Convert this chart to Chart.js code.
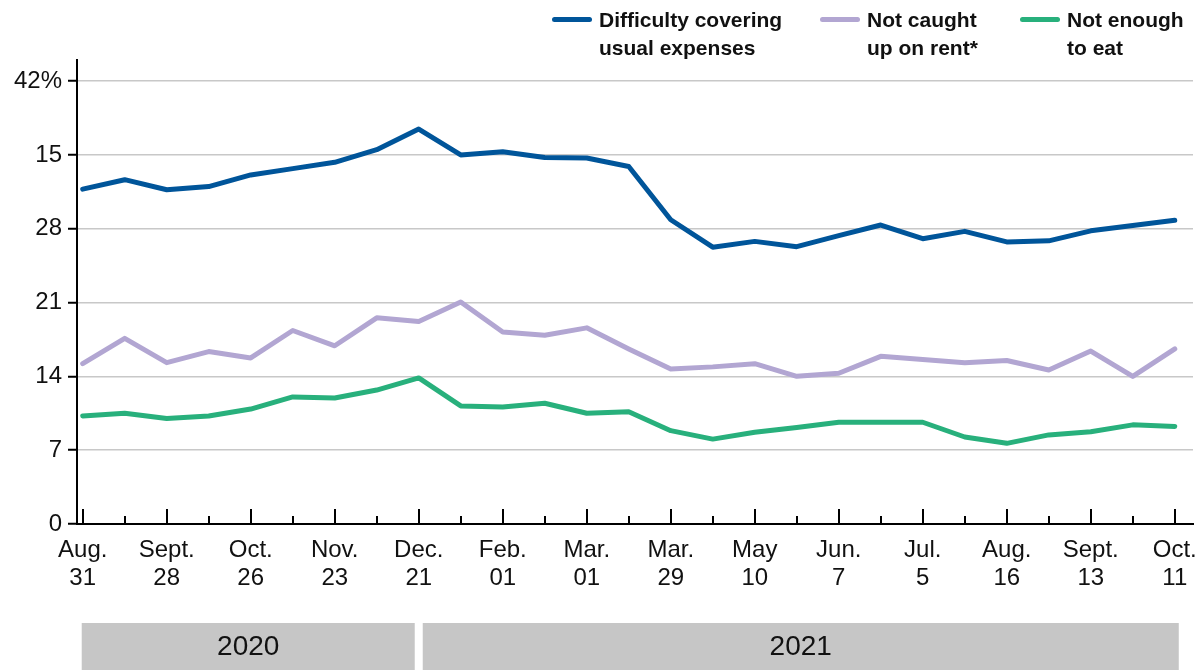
<!DOCTYPE html>
<html>
<head>
<meta charset="utf-8">
<script src="https://cdn.jsdelivr.net/npm/chart.js@4.4.0/dist/chart.umd.min.js"></script>
<style>
  body { margin: 0; background: #fff; font-family: 'Liberation Sans', Arial, sans-serif; }
  #wrap { position: relative; width: 1202px; height: 670px; }
  .legend-item { position: absolute; top: 6px; display: flex; align-items: flex-start; }
  .swatch { width: 40px; height: 5px; border-radius: 3px; margin-top: 11px; margin-right: 7px; }
  .legend-text { font-size: 21px; font-weight: bold; line-height: 28px; color: #111; white-space: nowrap; }
</style>
</head>
<body>
<div id="wrap">
  <canvas id="chart" width="1202" height="670"></canvas>
  <div class="legend-item" style="left:552px"><span class="swatch" style="background:#00559a"></span><span class="legend-text">Difficulty covering<br>usual expenses</span></div>
  <div class="legend-item" style="left:820px"><span class="swatch" style="background:#b2a6d2"></span><span class="legend-text">Not caught<br>up on rent*</span></div>
  <div class="legend-item" style="left:1020px"><span class="swatch" style="background:#28b07c"></span><span class="legend-text">Not enough<br>to eat</span></div>
</div>
<script>
// survey weeks, labelled every other week
const xTickLabels = [
    ['Aug.', '31'], ['Sept.', '28'], ['Oct.', '26'], ['Nov.', '23'], ['Dec.', '21'],
    ['Feb.', '01'], ['Mar.', '01'], ['Mar.', '29'], ['May', '10'], ['Jun.', '7'],
    ['Jul.', '5'], ['Aug.', '16'], ['Sept.', '13'], ['Oct.', '11']
];

const yTicks = [0, 7, 14, 21, 28, 35, 42];
const yTickLabels = ['0', '7', '14', '21', '28', '15', '42%'];

const expenses = [31.75, 32.65, 31.7, 32.0, 33.1, 33.7, 34.3, 35.5, 37.45, 35.0, 35.3, 34.75, 34.7, 33.9,
    28.85, 26.25, 26.8, 26.3, 27.35, 28.35, 27.05, 27.75, 26.75, 26.85, 27.8, 28.3, 28.8];
const rent = [15.2, 17.6, 15.3, 16.35, 15.75, 18.35, 16.9, 19.55, 19.2, 21.05, 18.2, 17.9, 18.6, 16.6,
    14.7, 14.9, 15.2, 14.0, 14.3, 15.9, 15.6, 15.3, 15.5, 14.6, 16.4, 14.0, 16.6];
const food = [10.25, 10.5, 10.0, 10.25, 10.9, 12.05, 11.95, 12.7, 13.85, 11.2, 11.1, 11.45, 10.5, 10.65,
    8.85, 8.05, 8.7, 9.15, 9.65, 9.65, 9.65, 8.25, 7.65, 8.45, 8.75, 9.4, 9.25];

const years = ['2020', '2021'];
const yearFirstWeek = [0, 8];
const yearLastWeek = [8, 26];

const toPoints = arr => arr.map((v, i) => ({ x: i, y: v }));
const fontFamily = "'Liberation Sans', Arial, sans-serif";

// inward tick marks on the time axis plus the grey year bands below it
const axisExtras = {
    id: 'axisExtras',
    afterDraw(chart) {
        const { ctx, chartArea } = chart;
        const x = chart.scales.x;
        ctx.save();
        ctx.strokeStyle = '#000';
        ctx.lineWidth = 2;
        for (let i = 0; i < expenses.length; i++) {
            const px = Math.round(x.getPixelForValue(i));
            const len = i % 2 === 0 ? 15 : 8;
            ctx.beginPath();
            ctx.moveTo(px, chartArea.bottom);
            ctx.lineTo(px, chartArea.bottom - len);
            ctx.stroke();
        }

        const top = 623, bottom = chart.height;
        years.forEach((year, i) => {
            const left = x.getPixelForValue(yearFirstWeek[i]) + (i === 0 ? -1 : 4);
            const right = x.getPixelForValue(yearLastWeek[i]) + (i === years.length - 1 ? 4 : -4);
            ctx.fillStyle = '#c6c6c6';
            ctx.fillRect(left, top, right - left, bottom - top);
            ctx.fillStyle = '#111';
            ctx.font = '28px ' + fontFamily;
            ctx.textAlign = 'center';
            ctx.textBaseline = 'middle';
            ctx.fillText(year, (left + right) / 2, (top + bottom) / 2 + 1);
        });
        ctx.restore();
    }
};

const lineStyle = {
    borderWidth: 5,
    pointRadius: 0,
    tension: 0,
    borderCapStyle: 'round',
    borderJoinStyle: 'round'
};

new Chart(document.getElementById('chart'), {
    type: 'line',
    data: {
        datasets: [
            { label: 'Not enough to eat', data: toPoints(food), borderColor: '#28b07c', ...lineStyle },
            { label: 'Not caught up on rent*', data: toPoints(rent), borderColor: '#b2a6d2', ...lineStyle },
            { label: 'Difficulty covering usual expenses', data: toPoints(expenses), borderColor: '#00559a', ...lineStyle }
        ]
    },
    options: {
        responsive: false,
        animation: false,
        layout: { padding: { top: 60, right: 9, left: 0, bottom: 0 } },
        plugins: { legend: { display: false }, tooltip: { enabled: false } },
        scales: {
            x: {
                type: 'linear',
                min: -0.136,
                max: 26.434,
                afterBuildTicks: scale => {
                    scale.ticks = xTickLabels.map((_, i) => ({ value: i * 2 }));
                },
                afterFit: scale => {
                    scale.height = 146;
                    // let the end labels overhang instead of shrinking the plot
                    scale.paddingLeft = 0;
                    scale.paddingRight = 0;
                },
                grid: { display: false, drawTicks: false },
                border: { display: true, color: '#000', width: 2 },
                ticks: {
                    autoSkip: false,
                    maxRotation: 0,
                    padding: 12,
                    color: '#111',
                    font: { family: fontFamily, size: 24, lineHeight: 1.17 },
                    callback: v => xTickLabels[v / 2]
                }
            },
            y: {
                min: 0,
                max: 44,
                afterBuildTicks: scale => {
                    scale.ticks = yTicks.map(v => ({ value: v }));
                },
                afterFit: scale => { scale.width = 77; },
                grid: {
                    color: '#c8c8c8',
                    lineWidth: 1.5,
                    tickLength: 9,
                    tickColor: '#000',
                    tickWidth: 2
                },
                border: { display: true, color: '#000', width: 2 },
                ticks: {
                    padding: 6,
                    color: '#111',
                    font: { family: fontFamily, size: 24 },
                    callback: v => yTickLabels[yTicks.indexOf(v)]
                }
            }
        }
    },
    plugins: [axisExtras]
});
</script>
</body>
</html>
